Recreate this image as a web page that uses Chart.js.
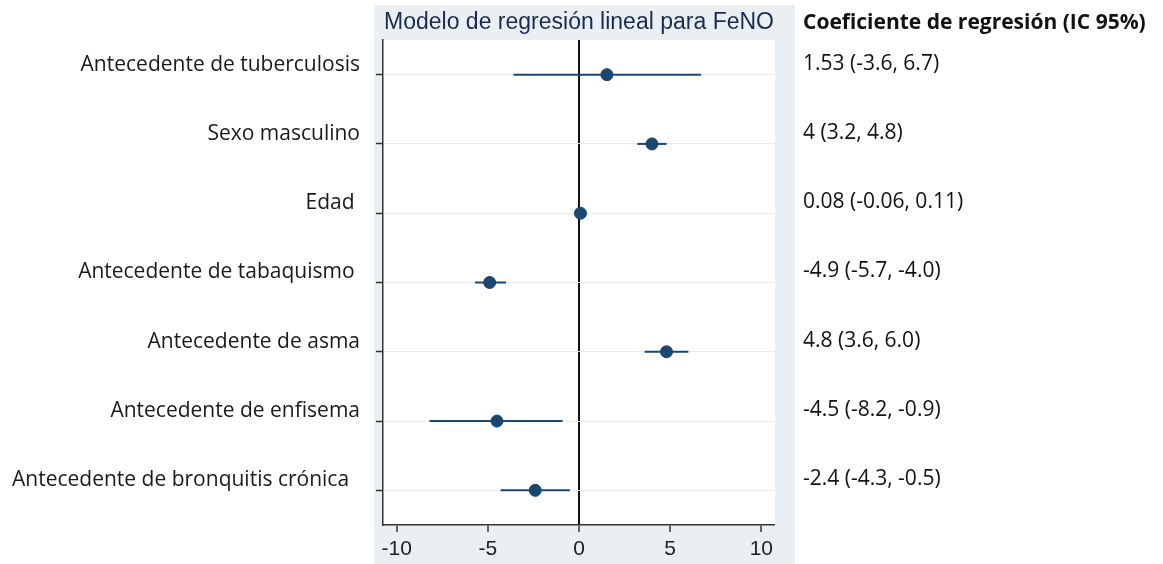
<!DOCTYPE html>
<html>
<head>
<meta charset="utf-8">
<script src="https://cdn.jsdelivr.net/npm/chart.js@4.4.0/dist/chart.umd.min.js"></script>
<style>
  html, body { margin: 0; padding: 0; background: #fff; }
  #wrap { width: 1163px; height: 564px; position: relative; }
</style>
</head>
<body>
<div id="wrap"><canvas id="forestChart"></canvas></div>
<script>
const labels = [
  'Antecedente de tuberculosis',
  'Sexo masculino',
  'Edad ',
  'Antecedente de tabaquismo ',
  'Antecedente de asma',
  'Antecedente de enfisema',
  'Antecedente de bronquitis crónica  '
];
const coef = [1.53, 4, 0.08, -4.9, 4.8, -4.5, -2.4];
const lower = [-3.6, 3.2, -0.06, -5.7, 3.6, -8.2, -4.3];
const upper = [6.7, 4.8, 0.11, -4.0, 6.0, -0.9, -0.5];
const coefText = [
  '1.53 (-3.6, 6.7)',
  '4 (3.2, 4.8)',
  '0.08 (-0.06, 0.11)',
  '-4.9 (-5.7, -4.0)',
  '4.8 (3.6, 6.0)',
  '-4.5 (-8.2, -0.9)',
  '-2.4 (-4.3, -0.5)'
];
const xTicks = [-10, -5, 0, 5, 10];
const rows = labels.map((l, i) => i + 1);

const navy = '#1a476f';

// fondo gris estilo Stata + area blanca del grafico
const panelPlugin = {
  id: 'panel',
  beforeDraw(chart) {
    const { ctx, chartArea } = chart;
    ctx.save();
    ctx.fillStyle = '#e9eff3';
    ctx.fillRect(chartArea.left - 9, chartArea.top - 35, chartArea.right - chartArea.left + 29, chart.height - chartArea.top + 35);
    ctx.fillStyle = '#ffffff';
    ctx.fillRect(chartArea.left, chartArea.top, chartArea.right - chartArea.left, chartArea.bottom - chartArea.top);
    ctx.restore();
  }
};

// columna de coeficientes a la derecha
const coefPlugin = {
  id: 'coefColumn',
  afterDraw(chart) {
    const { ctx, chartArea } = chart;
    const yScale = chart.scales.y;
    const x = chartArea.right + 28;
    ctx.save();
    ctx.fillStyle = '#111';
    ctx.textAlign = 'left';
    ctx.textBaseline = 'middle';
    ctx.font = 'bold 21px "Open Sans"';
    ctx.fillText('Coeficiente de regresión (IC 95%)', x, chartArea.top - 17);
    ctx.font = '21px "Open Sans"';
    coefText.forEach((t, i) => {
      ctx.fillText(t, x, yScale.getPixelForValue(rows[i]) - 11);
    });
    ctx.restore();
  }
};

const ciSets = rows.map((r, i) => ({
  type: 'line',
  data: [{ x: lower[i], y: r }, { x: upper[i], y: r }],
  borderColor: navy,
  borderWidth: 2,
  pointRadius: 0,
  fill: false
}));

new Chart(document.getElementById('forestChart'), {
  type: 'scatter',
  data: {
    datasets: [
      ...ciSets,
      {
        type: 'scatter',
        data: rows.map((r, i) => ({ x: coef[i], y: r })),
        backgroundColor: navy,
        borderColor: navy,
        pointRadius: 6,
        pointHoverRadius: 6
      }
    ]
  },
  options: {
    responsive: true,
    maintainAspectRatio: false,
    animation: false,
    layout: { padding: { top: 5, right: 388, bottom: 0, left: 0 } },
    plugins: {
      legend: { display: false },
      tooltip: { enabled: false },
      title: {
        display: true,
        fullSize: false,
        text: 'Modelo de regresión lineal para FeNO',
        color: '#1a2c4e',
        font: { family: '"Liberation Sans", Arial', size: 23, weight: 'normal' },
        padding: { top: 4, bottom: 3.4 }
      }
    },
    scales: {
      x: {
        type: 'linear',
        min: -10.75,
        max: 10.75,
        afterBuildTicks: s => { s.ticks = xTicks.map(v => ({ value: v })); },
        afterFit: s => { s.height = 39; },
        ticks: {
          color: '#222',
          padding: 5,
          font: { family: '"Liberation Sans", Arial', size: 21 }
        },
        grid: {
          color: c => (c.tick && c.tick.value === 0 ? '#111' : 'rgba(0,0,0,0)'),
          lineWidth: c => (c.tick && c.tick.value === 0 ? 2 : 0),
          tickColor: '#333',
          tickLength: 7,
          tickWidth: 1.5
        },
        border: { color: '#333', width: 1.5 }
      },
      y: {
        type: 'linear',
        min: 0.5,
        max: 7.5,
        reverse: true,
        afterBuildTicks: s => { s.ticks = rows.map(v => ({ value: v })); },
        afterFit: s => { s.width = 383; },
        ticks: {
          color: '#1a1a1a',
          padding: 16,
          labelOffset: -10,
          font: { family: '"Open Sans"', size: 21 },
          callback: v => labels[v - 1]
        },
        grid: {
          color: '#ebebeb',
          lineWidth: 1,
          tickColor: '#333',
          tickLength: 7,
          tickWidth: 1.5
        },
        border: { color: '#333', width: 1.5 }
      }
    }
  },
  plugins: [panelPlugin, coefPlugin]
});
</script>
</body>
</html>
